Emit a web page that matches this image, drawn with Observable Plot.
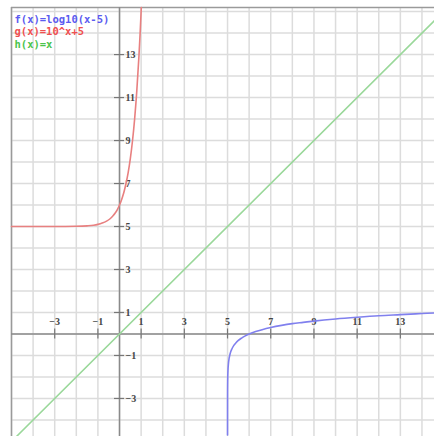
<!DOCTYPE html>
<html>
<head>
<meta charset="utf-8">
<script src="https://cdn.jsdelivr.net/npm/d3@7"></script>
<script src="https://cdn.jsdelivr.net/npm/@observablehq/plot@0.6"></script>
<style>
  html, body { margin: 0; padding: 0; background: #fff; }
  g[aria-label="legend"] text { letter-spacing: 1.3px; }
</style>
</head>
<body>
<div id="chart"></div>
<script>
// Visible window
const xDomain = [-5.0, 14.58];
const yDomain = [-4.77, 15.19];

// Grid lines and tick labels
const xGrid = [-5,-4,-3,-2,-1,0,1,2,3,4,5,6,7,8,9,10,11,12,13,14];
const yGrid = [-4,-3,-2,-1,0,1,2,3,4,5,6,7,8,9,10,11,12,13,14,15];
const xTicks = [-3,-1,1,3,5,7,9,11,13];
const yTicks = [-3,-1,1,3,5,7,9,11,13];

// f(x) = log10(x-5)
const fX = [5.00002,5.0003,5.001,5.003,5.006,5.01,5.02,5.04,5.07,5.1,5.15,5.2,5.3,5.4,5.5,5.65,5.8,6,6.3,6.6,7,7.5,8,8.5,9,10,11,12,13,14,14.58];
const fY = [-4.7,-3.52,-3,-2.52,-2.22,-2,-1.7,-1.4,-1.15,-1,-0.82,-0.7,-0.52,-0.4,-0.3,-0.19,-0.1,0,0.11,0.2,0.3,0.4,0.48,0.54,0.6,0.7,0.78,0.85,0.9,0.95,0.98];

// g(x) = 10^x + 5
const gX = [-5,-4,-3,-2,-1.5,-1.2,-1,-0.8,-0.6,-0.45,-0.3,-0.2,-0.1,0,0.1,0.2,0.3,0.4,0.5,0.6,0.7,0.8,0.9,0.95,1.0,1.008];
const gY = [5,5.0001,5.001,5.01,5.03,5.06,5.1,5.16,5.25,5.35,5.5,5.63,5.79,6,6.26,6.58,7,7.51,8.16,8.98,10.01,11.31,12.94,13.91,15,15.19];

// h(x) = x — endpoints of the green line
const hX = [-4.77, 14.58];
const hY = [-4.77, 14.58];

const legendLabels = ["f(x)=log10(x-5)", "g(x)=10^x+5", "h(x)=x"];
const legendColors = ["#5b5bf0", "#f05050", "#4cc44c"];

const zip = (xs, ys) => xs.map((x, i) => ({x, y: ys[i]}));
const fData = zip(fX, fY);
const gData = zip(gX, gY);
const hData = zip(hX, hY);

const labelFont = "'Liberation Serif', 'DejaVu Serif', serif";
const fmt = d => d < 0 ? "\u2212" + (-d) : String(d);

const legendMarks = legendLabels.map((label, i) =>
  Plot.text([label], {
    ariaLabel: "legend",
    frameAnchor: "top-left",
    text: d => d,
    dx: 3,
    dy: 8 + i * 12.5,
    fill: legendColors[i],
    fontFamily: "'DejaVu Sans Mono', monospace",
    fontWeight: "bold",
    fontSize: 10.5,
    textAnchor: "start",
    lineAnchor: "top"
  })
);

const chart = Plot.plot({
  width: 434,
  height: 436,
  marginTop: 7,
  marginLeft: 11,
  marginRight: 0,
  marginBottom: 0,
  x: {domain: xDomain, axis: null},
  y: {domain: yDomain, axis: null},
  style: {background: "#fff", overflow: "hidden"},
  marks: [
    Plot.ruleX(xGrid, {stroke: "#dcdcdc", strokeWidth: 1.5}),
    Plot.ruleY(yGrid, {stroke: "#dcdcdc", strokeWidth: 1.5}),
    // frame (left and top)
    Plot.ruleX([xDomain[0]], {stroke: "#9a9a9a", strokeWidth: 1.5}),
    Plot.ruleY([yDomain[1]], {stroke: "#9a9a9a", strokeWidth: 1.5}),
    // axes
    Plot.ruleX([0], {stroke: "#8a8a8a", strokeWidth: 1.5}),
    Plot.ruleY([0], {stroke: "#8a8a8a", strokeWidth: 1.5}),
    // tick marks
    Plot.ruleX(xTicks, {x: d => d, y1: 0, y2: 0, insetTop: -5, insetBottom: -5, stroke: "#777", strokeWidth: 1.2}),
    Plot.ruleY(yTicks, {y: d => d, x1: 0, x2: 0, insetLeft: -5, insetRight: -5, stroke: "#777", strokeWidth: 1.2}),
    // tick labels
    Plot.text(xTicks, {x: d => d, y: 0, text: fmt, dy: -12, fontSize: 10, fontWeight: "bold", fontFamily: labelFont, fill: "#444"}),
    Plot.text(yTicks, {x: 0, y: d => d, text: fmt, dx: 6, textAnchor: "start", fontSize: 10, fontWeight: "bold", fontFamily: labelFont, fill: "#444"}),
    // curves
    Plot.line(hData, {x: "x", y: "y", stroke: "#9ad89a", strokeWidth: 1.6}),
    Plot.line(gData, {x: "x", y: "y", stroke: "#e88080", strokeWidth: 1.6, curve: "monotone-x"}),
    Plot.line(fData, {x: "x", y: "y", stroke: "#8080ee", strokeWidth: 1.6, curve: "monotone-x"}),
    ...legendMarks
  ]
});
document.getElementById("chart").appendChild(chart);
</script>
</body>
</html>
